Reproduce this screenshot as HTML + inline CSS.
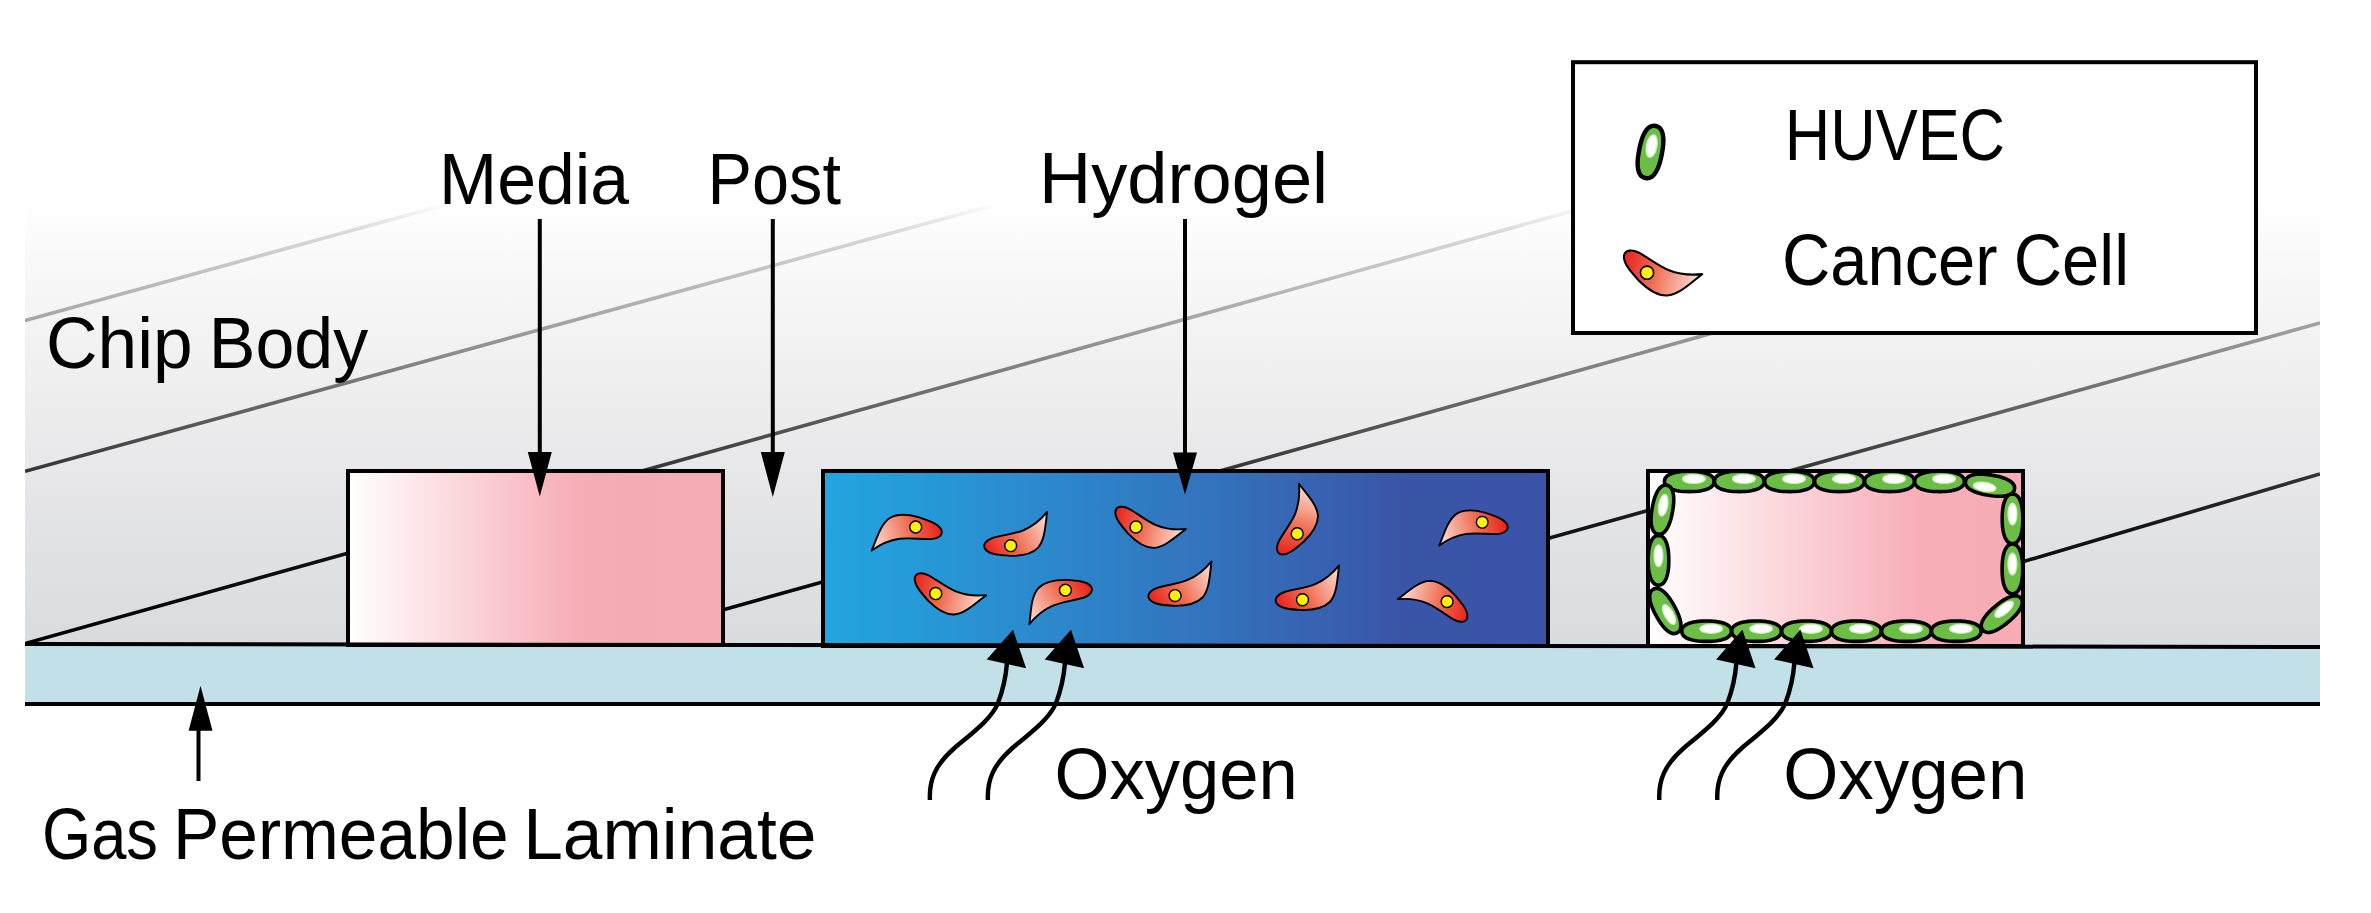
<!DOCTYPE html>
<html><head><meta charset="utf-8"><style>html,body{margin:0;padding:0;background:#fff;overflow:hidden}svg{display:block}</style></head>
<body><svg width="2371" height="913" viewBox="0 0 2371 913">
<defs>
 <linearGradient id="chipg" x1="0" y1="196" x2="0" y2="644" gradientUnits="userSpaceOnUse">
  <stop offset="0" stop-color="#ffffff"/>
  <stop offset="0.3" stop-color="#f3f3f3"/>
  <stop offset="0.62" stop-color="#e7e7e9"/>
  <stop offset="1" stop-color="#d9dbde"/>
 </linearGradient>
 <linearGradient id="lineg" x1="0" y1="205" x2="0" y2="644" gradientUnits="userSpaceOnUse">
  <stop offset="0" stop-color="#fcfcfc"/>
  <stop offset="0.06" stop-color="#dadada"/>
  <stop offset="0.25" stop-color="#a8a8a8"/>
  <stop offset="0.58" stop-color="#3c3c3c"/>
  <stop offset="0.73" stop-color="#151515"/>
  <stop offset="1" stop-color="#000000"/>
 </linearGradient>
 <linearGradient id="pinkh" x1="0" y1="0" x2="1" y2="0">
  <stop offset="0" stop-color="#ffffff"/>
  <stop offset="0.72" stop-color="#f7aeb7"/>
  <stop offset="1" stop-color="#f7adb6"/>
 </linearGradient>
 <linearGradient id="pinkg" x1="0" y1="0" x2="1" y2="0">
  <stop offset="0" stop-color="#ffffff"/>
  <stop offset="0.6" stop-color="#f7aeb7"/>
  <stop offset="0.75" stop-color="#f5abb4"/>
  <stop offset="1" stop-color="#f7adb6"/>
 </linearGradient>
 <linearGradient id="blueg" x1="0" y1="0" x2="1" y2="0">
  <stop offset="0" stop-color="#22a6e0"/>
  <stop offset="0.5" stop-color="#3276bf"/>
  <stop offset="0.8" stop-color="#3a55a8"/>
  <stop offset="1" stop-color="#3a53a8"/>
 </linearGradient>
 <linearGradient id="cellg" x1="-22" y1="-18" x2="55" y2="2" gradientUnits="userSpaceOnUse">
  <stop offset="0" stop-color="#e8231d"/>
  <stop offset="0.4" stop-color="#f06a4f"/>
  <stop offset="1" stop-color="#fbe3d9"/>
 </linearGradient>
 <clipPath id="chipclip"><rect x="25" y="206" width="2295" height="438"/></clipPath>
 <g id="ccell">
  <path d="M55.2,1.4 C45,2.5 32,1.5 22,-2.5 C12,-6.5 2,-14.5 -8,-20 C-15,-23.5 -22,-23 -23,-17 C-24,-10 -17,-2 -8,8 C0,16 10,23 20,22.8 C32,22 44,10 55.2,1.4 Z" fill="url(#cellg)" stroke="#000" stroke-width="2.1" stroke-linejoin="round"/>
  <circle cx="0" cy="0" r="6.6" fill="#fff200" stroke="#000" stroke-width="1.6"/>
 </g>
</defs>

<rect x="0" y="0" width="2371" height="913" fill="#fff"/>
<rect x="25" y="196" width="2295" height="452" fill="url(#chipg)"/>
<g clip-path="url(#chipclip)" stroke="url(#lineg)" stroke-width="3.6" fill="none">
<line x1="25.0" y1="320.5" x2="600.0" y2="162.0"/>
<line x1="25.0" y1="471.3" x2="1200.0" y2="148.1"/>
<line x1="25.0" y1="643.5" x2="1700.0" y2="175.3"/>
<line x1="601.0" y1="644.0" x2="2320.0" y2="163.2"/>
<line x1="1173.0" y1="643.0" x2="2320.0" y2="323.0"/>
<line x1="1748.0" y1="643.0" x2="2320.0" y2="473.9"/>
</g>
<polygon points="25,644 2320,647 2320,704 25,704" fill="#c2e0e8"/>
<rect x="348" y="471" width="375" height="174" fill="url(#pinkg)" stroke="#000" stroke-width="4"/>
<rect x="823" y="471" width="725" height="175" fill="url(#blueg)" stroke="#000" stroke-width="4"/>
<rect x="1648" y="471" width="375" height="175" fill="url(#pinkh)" stroke="#000" stroke-width="4"/>
<line x1="25" y1="644" x2="2320" y2="647" stroke="#000" stroke-width="4"/>
<line x1="25" y1="704" x2="2320" y2="704" stroke="#000" stroke-width="4"/>
<use href="#ccell" transform="translate(915.7 527.0) rotate(150.4) scale(0.905)"/>
<use href="#ccell" transform="translate(1010.7 545.7) rotate(-44.2) scale(0.900)"/>
<use href="#ccell" transform="translate(1136.0 527.0) rotate(0.9) scale(0.905)"/>
<use href="#ccell" transform="translate(1297.2 533.7) rotate(-89.5) scale(0.905)"/>
<use href="#ccell" transform="translate(1482.2 522.3) rotate(150.1) scale(0.885)"/>
<use href="#ccell" transform="translate(935.7 593.6) rotate(0.3) scale(0.914)"/>
<use href="#ccell" transform="translate(1065.4 590.1) rotate(135.1) scale(0.900)"/>
<use href="#ccell" transform="translate(1175.1 595.6) rotate(-44.7) scale(0.905)"/>
<use href="#ccell" transform="translate(1302.5 599.8) rotate(-44.7) scale(0.910)"/>
<use href="#ccell" transform="translate(1447.1 601.6) rotate(181.4) scale(0.895)"/>
<use href="#ccell" transform="translate(1647.0 272.7) rotate(0.0) scale(1.000)"/>
<g transform="translate(1689.3 481.4) rotate(0.0)">
<path d="M24.80,0.00 L24.70,1.35 L24.39,2.46 L23.87,3.48 L23.15,4.42 L22.23,5.30 L21.12,6.12 L19.83,6.87 L18.35,7.55 L16.70,8.15 L14.88,8.69 L12.90,9.14 L10.76,9.52 L8.46,9.82 L5.99,10.03 L3.29,10.16 L0.00,10.20 L-3.29,10.16 L-5.99,10.03 L-8.46,9.82 L-10.76,9.52 L-12.90,9.14 L-14.88,8.69 L-16.70,8.15 L-18.35,7.55 L-19.83,6.87 L-21.12,6.12 L-22.23,5.30 L-23.15,4.42 L-23.87,3.48 L-24.39,2.46 L-24.70,1.35 L-24.80,0.00 L-24.70,-1.35 L-24.39,-2.46 L-23.87,-3.48 L-23.15,-4.42 L-22.23,-5.30 L-21.12,-6.12 L-19.83,-6.87 L-18.35,-7.55 L-16.70,-8.15 L-14.88,-8.69 L-12.90,-9.14 L-10.76,-9.52 L-8.46,-9.82 L-5.99,-10.03 L-3.29,-10.16 L-0.00,-10.20 L3.29,-10.16 L5.99,-10.03 L8.46,-9.82 L10.76,-9.52 L12.90,-9.14 L14.88,-8.69 L16.70,-8.15 L18.35,-7.55 L19.83,-6.87 L21.12,-6.12 L22.23,-5.30 L23.15,-4.42 L23.87,-3.48 L24.39,-2.46 L24.70,-1.35Z" fill="#6cbd45" stroke="#000" stroke-width="3.6" stroke-linejoin="round"/>
<ellipse cx="4.6" cy="-2.5" rx="11.4" ry="4.6" fill="#fff" stroke="#cdeebb" stroke-width="1.2"/>
</g>
<g transform="translate(1739.3 481.4) rotate(0.0)">
<path d="M24.80,0.00 L24.70,1.35 L24.39,2.46 L23.87,3.48 L23.15,4.42 L22.23,5.30 L21.12,6.12 L19.83,6.87 L18.35,7.55 L16.70,8.15 L14.88,8.69 L12.90,9.14 L10.76,9.52 L8.46,9.82 L5.99,10.03 L3.29,10.16 L0.00,10.20 L-3.29,10.16 L-5.99,10.03 L-8.46,9.82 L-10.76,9.52 L-12.90,9.14 L-14.88,8.69 L-16.70,8.15 L-18.35,7.55 L-19.83,6.87 L-21.12,6.12 L-22.23,5.30 L-23.15,4.42 L-23.87,3.48 L-24.39,2.46 L-24.70,1.35 L-24.80,0.00 L-24.70,-1.35 L-24.39,-2.46 L-23.87,-3.48 L-23.15,-4.42 L-22.23,-5.30 L-21.12,-6.12 L-19.83,-6.87 L-18.35,-7.55 L-16.70,-8.15 L-14.88,-8.69 L-12.90,-9.14 L-10.76,-9.52 L-8.46,-9.82 L-5.99,-10.03 L-3.29,-10.16 L-0.00,-10.20 L3.29,-10.16 L5.99,-10.03 L8.46,-9.82 L10.76,-9.52 L12.90,-9.14 L14.88,-8.69 L16.70,-8.15 L18.35,-7.55 L19.83,-6.87 L21.12,-6.12 L22.23,-5.30 L23.15,-4.42 L23.87,-3.48 L24.39,-2.46 L24.70,-1.35Z" fill="#6cbd45" stroke="#000" stroke-width="3.6" stroke-linejoin="round"/>
<ellipse cx="4.6" cy="-2.5" rx="11.4" ry="4.6" fill="#fff" stroke="#cdeebb" stroke-width="1.2"/>
</g>
<g transform="translate(1789.4 481.4) rotate(0.0)">
<path d="M24.80,0.00 L24.70,1.35 L24.39,2.46 L23.87,3.48 L23.15,4.42 L22.23,5.30 L21.12,6.12 L19.83,6.87 L18.35,7.55 L16.70,8.15 L14.88,8.69 L12.90,9.14 L10.76,9.52 L8.46,9.82 L5.99,10.03 L3.29,10.16 L0.00,10.20 L-3.29,10.16 L-5.99,10.03 L-8.46,9.82 L-10.76,9.52 L-12.90,9.14 L-14.88,8.69 L-16.70,8.15 L-18.35,7.55 L-19.83,6.87 L-21.12,6.12 L-22.23,5.30 L-23.15,4.42 L-23.87,3.48 L-24.39,2.46 L-24.70,1.35 L-24.80,0.00 L-24.70,-1.35 L-24.39,-2.46 L-23.87,-3.48 L-23.15,-4.42 L-22.23,-5.30 L-21.12,-6.12 L-19.83,-6.87 L-18.35,-7.55 L-16.70,-8.15 L-14.88,-8.69 L-12.90,-9.14 L-10.76,-9.52 L-8.46,-9.82 L-5.99,-10.03 L-3.29,-10.16 L-0.00,-10.20 L3.29,-10.16 L5.99,-10.03 L8.46,-9.82 L10.76,-9.52 L12.90,-9.14 L14.88,-8.69 L16.70,-8.15 L18.35,-7.55 L19.83,-6.87 L21.12,-6.12 L22.23,-5.30 L23.15,-4.42 L23.87,-3.48 L24.39,-2.46 L24.70,-1.35Z" fill="#6cbd45" stroke="#000" stroke-width="3.6" stroke-linejoin="round"/>
<ellipse cx="4.6" cy="-2.5" rx="11.4" ry="4.6" fill="#fff" stroke="#cdeebb" stroke-width="1.2"/>
</g>
<g transform="translate(1839.4 481.4) rotate(0.0)">
<path d="M24.80,0.00 L24.70,1.35 L24.39,2.46 L23.87,3.48 L23.15,4.42 L22.23,5.30 L21.12,6.12 L19.83,6.87 L18.35,7.55 L16.70,8.15 L14.88,8.69 L12.90,9.14 L10.76,9.52 L8.46,9.82 L5.99,10.03 L3.29,10.16 L0.00,10.20 L-3.29,10.16 L-5.99,10.03 L-8.46,9.82 L-10.76,9.52 L-12.90,9.14 L-14.88,8.69 L-16.70,8.15 L-18.35,7.55 L-19.83,6.87 L-21.12,6.12 L-22.23,5.30 L-23.15,4.42 L-23.87,3.48 L-24.39,2.46 L-24.70,1.35 L-24.80,0.00 L-24.70,-1.35 L-24.39,-2.46 L-23.87,-3.48 L-23.15,-4.42 L-22.23,-5.30 L-21.12,-6.12 L-19.83,-6.87 L-18.35,-7.55 L-16.70,-8.15 L-14.88,-8.69 L-12.90,-9.14 L-10.76,-9.52 L-8.46,-9.82 L-5.99,-10.03 L-3.29,-10.16 L-0.00,-10.20 L3.29,-10.16 L5.99,-10.03 L8.46,-9.82 L10.76,-9.52 L12.90,-9.14 L14.88,-8.69 L16.70,-8.15 L18.35,-7.55 L19.83,-6.87 L21.12,-6.12 L22.23,-5.30 L23.15,-4.42 L23.87,-3.48 L24.39,-2.46 L24.70,-1.35Z" fill="#6cbd45" stroke="#000" stroke-width="3.6" stroke-linejoin="round"/>
<ellipse cx="4.6" cy="-2.5" rx="11.4" ry="4.6" fill="#fff" stroke="#cdeebb" stroke-width="1.2"/>
</g>
<g transform="translate(1889.5 481.4) rotate(0.0)">
<path d="M24.80,0.00 L24.70,1.35 L24.39,2.46 L23.87,3.48 L23.15,4.42 L22.23,5.30 L21.12,6.12 L19.83,6.87 L18.35,7.55 L16.70,8.15 L14.88,8.69 L12.90,9.14 L10.76,9.52 L8.46,9.82 L5.99,10.03 L3.29,10.16 L0.00,10.20 L-3.29,10.16 L-5.99,10.03 L-8.46,9.82 L-10.76,9.52 L-12.90,9.14 L-14.88,8.69 L-16.70,8.15 L-18.35,7.55 L-19.83,6.87 L-21.12,6.12 L-22.23,5.30 L-23.15,4.42 L-23.87,3.48 L-24.39,2.46 L-24.70,1.35 L-24.80,0.00 L-24.70,-1.35 L-24.39,-2.46 L-23.87,-3.48 L-23.15,-4.42 L-22.23,-5.30 L-21.12,-6.12 L-19.83,-6.87 L-18.35,-7.55 L-16.70,-8.15 L-14.88,-8.69 L-12.90,-9.14 L-10.76,-9.52 L-8.46,-9.82 L-5.99,-10.03 L-3.29,-10.16 L-0.00,-10.20 L3.29,-10.16 L5.99,-10.03 L8.46,-9.82 L10.76,-9.52 L12.90,-9.14 L14.88,-8.69 L16.70,-8.15 L18.35,-7.55 L19.83,-6.87 L21.12,-6.12 L22.23,-5.30 L23.15,-4.42 L23.87,-3.48 L24.39,-2.46 L24.70,-1.35Z" fill="#6cbd45" stroke="#000" stroke-width="3.6" stroke-linejoin="round"/>
<ellipse cx="4.6" cy="-2.5" rx="11.4" ry="4.6" fill="#fff" stroke="#cdeebb" stroke-width="1.2"/>
</g>
<g transform="translate(1939.5 481.4) rotate(0.0)">
<path d="M24.80,0.00 L24.70,1.35 L24.39,2.46 L23.87,3.48 L23.15,4.42 L22.23,5.30 L21.12,6.12 L19.83,6.87 L18.35,7.55 L16.70,8.15 L14.88,8.69 L12.90,9.14 L10.76,9.52 L8.46,9.82 L5.99,10.03 L3.29,10.16 L0.00,10.20 L-3.29,10.16 L-5.99,10.03 L-8.46,9.82 L-10.76,9.52 L-12.90,9.14 L-14.88,8.69 L-16.70,8.15 L-18.35,7.55 L-19.83,6.87 L-21.12,6.12 L-22.23,5.30 L-23.15,4.42 L-23.87,3.48 L-24.39,2.46 L-24.70,1.35 L-24.80,0.00 L-24.70,-1.35 L-24.39,-2.46 L-23.87,-3.48 L-23.15,-4.42 L-22.23,-5.30 L-21.12,-6.12 L-19.83,-6.87 L-18.35,-7.55 L-16.70,-8.15 L-14.88,-8.69 L-12.90,-9.14 L-10.76,-9.52 L-8.46,-9.82 L-5.99,-10.03 L-3.29,-10.16 L-0.00,-10.20 L3.29,-10.16 L5.99,-10.03 L8.46,-9.82 L10.76,-9.52 L12.90,-9.14 L14.88,-8.69 L16.70,-8.15 L18.35,-7.55 L19.83,-6.87 L21.12,-6.12 L22.23,-5.30 L23.15,-4.42 L23.87,-3.48 L24.39,-2.46 L24.70,-1.35Z" fill="#6cbd45" stroke="#000" stroke-width="3.6" stroke-linejoin="round"/>
<ellipse cx="4.6" cy="-2.5" rx="11.4" ry="4.6" fill="#fff" stroke="#cdeebb" stroke-width="1.2"/>
</g>
<g transform="translate(1990.0 485.2) rotate(9.0)">
<path d="M24.80,0.00 L24.70,1.35 L24.39,2.46 L23.87,3.48 L23.15,4.42 L22.23,5.30 L21.12,6.12 L19.83,6.87 L18.35,7.55 L16.70,8.15 L14.88,8.69 L12.90,9.14 L10.76,9.52 L8.46,9.82 L5.99,10.03 L3.29,10.16 L0.00,10.20 L-3.29,10.16 L-5.99,10.03 L-8.46,9.82 L-10.76,9.52 L-12.90,9.14 L-14.88,8.69 L-16.70,8.15 L-18.35,7.55 L-19.83,6.87 L-21.12,6.12 L-22.23,5.30 L-23.15,4.42 L-23.87,3.48 L-24.39,2.46 L-24.70,1.35 L-24.80,0.00 L-24.70,-1.35 L-24.39,-2.46 L-23.87,-3.48 L-23.15,-4.42 L-22.23,-5.30 L-21.12,-6.12 L-19.83,-6.87 L-18.35,-7.55 L-16.70,-8.15 L-14.88,-8.69 L-12.90,-9.14 L-10.76,-9.52 L-8.46,-9.82 L-5.99,-10.03 L-3.29,-10.16 L-0.00,-10.20 L3.29,-10.16 L5.99,-10.03 L8.46,-9.82 L10.76,-9.52 L12.90,-9.14 L14.88,-8.69 L16.70,-8.15 L18.35,-7.55 L19.83,-6.87 L21.12,-6.12 L22.23,-5.30 L23.15,-4.42 L23.87,-3.48 L24.39,-2.46 L24.70,-1.35Z" fill="#6cbd45" stroke="#000" stroke-width="3.6" stroke-linejoin="round"/>
<ellipse cx="-5.0" cy="2.5" rx="11.4" ry="4.6" fill="#fff" stroke="#cdeebb" stroke-width="1.2"/>
</g>
<g transform="translate(1706.6 631.2) rotate(0.0)">
<path d="M24.80,0.00 L24.70,1.35 L24.39,2.46 L23.87,3.48 L23.15,4.42 L22.23,5.30 L21.12,6.12 L19.83,6.87 L18.35,7.55 L16.70,8.15 L14.88,8.69 L12.90,9.14 L10.76,9.52 L8.46,9.82 L5.99,10.03 L3.29,10.16 L0.00,10.20 L-3.29,10.16 L-5.99,10.03 L-8.46,9.82 L-10.76,9.52 L-12.90,9.14 L-14.88,8.69 L-16.70,8.15 L-18.35,7.55 L-19.83,6.87 L-21.12,6.12 L-22.23,5.30 L-23.15,4.42 L-23.87,3.48 L-24.39,2.46 L-24.70,1.35 L-24.80,0.00 L-24.70,-1.35 L-24.39,-2.46 L-23.87,-3.48 L-23.15,-4.42 L-22.23,-5.30 L-21.12,-6.12 L-19.83,-6.87 L-18.35,-7.55 L-16.70,-8.15 L-14.88,-8.69 L-12.90,-9.14 L-10.76,-9.52 L-8.46,-9.82 L-5.99,-10.03 L-3.29,-10.16 L-0.00,-10.20 L3.29,-10.16 L5.99,-10.03 L8.46,-9.82 L10.76,-9.52 L12.90,-9.14 L14.88,-8.69 L16.70,-8.15 L18.35,-7.55 L19.83,-6.87 L21.12,-6.12 L22.23,-5.30 L23.15,-4.42 L23.87,-3.48 L24.39,-2.46 L24.70,-1.35Z" fill="#6cbd45" stroke="#000" stroke-width="3.6" stroke-linejoin="round"/>
<ellipse cx="4.6" cy="-2.5" rx="11.4" ry="4.6" fill="#fff" stroke="#cdeebb" stroke-width="1.2"/>
</g>
<g transform="translate(1756.5 631.2) rotate(0.0)">
<path d="M24.80,0.00 L24.70,1.35 L24.39,2.46 L23.87,3.48 L23.15,4.42 L22.23,5.30 L21.12,6.12 L19.83,6.87 L18.35,7.55 L16.70,8.15 L14.88,8.69 L12.90,9.14 L10.76,9.52 L8.46,9.82 L5.99,10.03 L3.29,10.16 L0.00,10.20 L-3.29,10.16 L-5.99,10.03 L-8.46,9.82 L-10.76,9.52 L-12.90,9.14 L-14.88,8.69 L-16.70,8.15 L-18.35,7.55 L-19.83,6.87 L-21.12,6.12 L-22.23,5.30 L-23.15,4.42 L-23.87,3.48 L-24.39,2.46 L-24.70,1.35 L-24.80,0.00 L-24.70,-1.35 L-24.39,-2.46 L-23.87,-3.48 L-23.15,-4.42 L-22.23,-5.30 L-21.12,-6.12 L-19.83,-6.87 L-18.35,-7.55 L-16.70,-8.15 L-14.88,-8.69 L-12.90,-9.14 L-10.76,-9.52 L-8.46,-9.82 L-5.99,-10.03 L-3.29,-10.16 L-0.00,-10.20 L3.29,-10.16 L5.99,-10.03 L8.46,-9.82 L10.76,-9.52 L12.90,-9.14 L14.88,-8.69 L16.70,-8.15 L18.35,-7.55 L19.83,-6.87 L21.12,-6.12 L22.23,-5.30 L23.15,-4.42 L23.87,-3.48 L24.39,-2.46 L24.70,-1.35Z" fill="#6cbd45" stroke="#000" stroke-width="3.6" stroke-linejoin="round"/>
<ellipse cx="4.6" cy="-2.5" rx="11.4" ry="4.6" fill="#fff" stroke="#cdeebb" stroke-width="1.2"/>
</g>
<g transform="translate(1806.5 631.2) rotate(0.0)">
<path d="M24.80,0.00 L24.70,1.35 L24.39,2.46 L23.87,3.48 L23.15,4.42 L22.23,5.30 L21.12,6.12 L19.83,6.87 L18.35,7.55 L16.70,8.15 L14.88,8.69 L12.90,9.14 L10.76,9.52 L8.46,9.82 L5.99,10.03 L3.29,10.16 L0.00,10.20 L-3.29,10.16 L-5.99,10.03 L-8.46,9.82 L-10.76,9.52 L-12.90,9.14 L-14.88,8.69 L-16.70,8.15 L-18.35,7.55 L-19.83,6.87 L-21.12,6.12 L-22.23,5.30 L-23.15,4.42 L-23.87,3.48 L-24.39,2.46 L-24.70,1.35 L-24.80,0.00 L-24.70,-1.35 L-24.39,-2.46 L-23.87,-3.48 L-23.15,-4.42 L-22.23,-5.30 L-21.12,-6.12 L-19.83,-6.87 L-18.35,-7.55 L-16.70,-8.15 L-14.88,-8.69 L-12.90,-9.14 L-10.76,-9.52 L-8.46,-9.82 L-5.99,-10.03 L-3.29,-10.16 L-0.00,-10.20 L3.29,-10.16 L5.99,-10.03 L8.46,-9.82 L10.76,-9.52 L12.90,-9.14 L14.88,-8.69 L16.70,-8.15 L18.35,-7.55 L19.83,-6.87 L21.12,-6.12 L22.23,-5.30 L23.15,-4.42 L23.87,-3.48 L24.39,-2.46 L24.70,-1.35Z" fill="#6cbd45" stroke="#000" stroke-width="3.6" stroke-linejoin="round"/>
<ellipse cx="4.6" cy="-2.5" rx="11.4" ry="4.6" fill="#fff" stroke="#cdeebb" stroke-width="1.2"/>
</g>
<g transform="translate(1856.4 631.2) rotate(0.0)">
<path d="M24.80,0.00 L24.70,1.35 L24.39,2.46 L23.87,3.48 L23.15,4.42 L22.23,5.30 L21.12,6.12 L19.83,6.87 L18.35,7.55 L16.70,8.15 L14.88,8.69 L12.90,9.14 L10.76,9.52 L8.46,9.82 L5.99,10.03 L3.29,10.16 L0.00,10.20 L-3.29,10.16 L-5.99,10.03 L-8.46,9.82 L-10.76,9.52 L-12.90,9.14 L-14.88,8.69 L-16.70,8.15 L-18.35,7.55 L-19.83,6.87 L-21.12,6.12 L-22.23,5.30 L-23.15,4.42 L-23.87,3.48 L-24.39,2.46 L-24.70,1.35 L-24.80,0.00 L-24.70,-1.35 L-24.39,-2.46 L-23.87,-3.48 L-23.15,-4.42 L-22.23,-5.30 L-21.12,-6.12 L-19.83,-6.87 L-18.35,-7.55 L-16.70,-8.15 L-14.88,-8.69 L-12.90,-9.14 L-10.76,-9.52 L-8.46,-9.82 L-5.99,-10.03 L-3.29,-10.16 L-0.00,-10.20 L3.29,-10.16 L5.99,-10.03 L8.46,-9.82 L10.76,-9.52 L12.90,-9.14 L14.88,-8.69 L16.70,-8.15 L18.35,-7.55 L19.83,-6.87 L21.12,-6.12 L22.23,-5.30 L23.15,-4.42 L23.87,-3.48 L24.39,-2.46 L24.70,-1.35Z" fill="#6cbd45" stroke="#000" stroke-width="3.6" stroke-linejoin="round"/>
<ellipse cx="4.6" cy="-2.5" rx="11.4" ry="4.6" fill="#fff" stroke="#cdeebb" stroke-width="1.2"/>
</g>
<g transform="translate(1906.4 631.2) rotate(0.0)">
<path d="M24.80,0.00 L24.70,1.35 L24.39,2.46 L23.87,3.48 L23.15,4.42 L22.23,5.30 L21.12,6.12 L19.83,6.87 L18.35,7.55 L16.70,8.15 L14.88,8.69 L12.90,9.14 L10.76,9.52 L8.46,9.82 L5.99,10.03 L3.29,10.16 L0.00,10.20 L-3.29,10.16 L-5.99,10.03 L-8.46,9.82 L-10.76,9.52 L-12.90,9.14 L-14.88,8.69 L-16.70,8.15 L-18.35,7.55 L-19.83,6.87 L-21.12,6.12 L-22.23,5.30 L-23.15,4.42 L-23.87,3.48 L-24.39,2.46 L-24.70,1.35 L-24.80,0.00 L-24.70,-1.35 L-24.39,-2.46 L-23.87,-3.48 L-23.15,-4.42 L-22.23,-5.30 L-21.12,-6.12 L-19.83,-6.87 L-18.35,-7.55 L-16.70,-8.15 L-14.88,-8.69 L-12.90,-9.14 L-10.76,-9.52 L-8.46,-9.82 L-5.99,-10.03 L-3.29,-10.16 L-0.00,-10.20 L3.29,-10.16 L5.99,-10.03 L8.46,-9.82 L10.76,-9.52 L12.90,-9.14 L14.88,-8.69 L16.70,-8.15 L18.35,-7.55 L19.83,-6.87 L21.12,-6.12 L22.23,-5.30 L23.15,-4.42 L23.87,-3.48 L24.39,-2.46 L24.70,-1.35Z" fill="#6cbd45" stroke="#000" stroke-width="3.6" stroke-linejoin="round"/>
<ellipse cx="4.6" cy="-2.5" rx="11.4" ry="4.6" fill="#fff" stroke="#cdeebb" stroke-width="1.2"/>
</g>
<g transform="translate(1956.3 631.2) rotate(0.0)">
<path d="M24.80,0.00 L24.70,1.35 L24.39,2.46 L23.87,3.48 L23.15,4.42 L22.23,5.30 L21.12,6.12 L19.83,6.87 L18.35,7.55 L16.70,8.15 L14.88,8.69 L12.90,9.14 L10.76,9.52 L8.46,9.82 L5.99,10.03 L3.29,10.16 L0.00,10.20 L-3.29,10.16 L-5.99,10.03 L-8.46,9.82 L-10.76,9.52 L-12.90,9.14 L-14.88,8.69 L-16.70,8.15 L-18.35,7.55 L-19.83,6.87 L-21.12,6.12 L-22.23,5.30 L-23.15,4.42 L-23.87,3.48 L-24.39,2.46 L-24.70,1.35 L-24.80,0.00 L-24.70,-1.35 L-24.39,-2.46 L-23.87,-3.48 L-23.15,-4.42 L-22.23,-5.30 L-21.12,-6.12 L-19.83,-6.87 L-18.35,-7.55 L-16.70,-8.15 L-14.88,-8.69 L-12.90,-9.14 L-10.76,-9.52 L-8.46,-9.82 L-5.99,-10.03 L-3.29,-10.16 L-0.00,-10.20 L3.29,-10.16 L5.99,-10.03 L8.46,-9.82 L10.76,-9.52 L12.90,-9.14 L14.88,-8.69 L16.70,-8.15 L18.35,-7.55 L19.83,-6.87 L21.12,-6.12 L22.23,-5.30 L23.15,-4.42 L23.87,-3.48 L24.39,-2.46 L24.70,-1.35Z" fill="#6cbd45" stroke="#000" stroke-width="3.6" stroke-linejoin="round"/>
<ellipse cx="4.6" cy="-2.5" rx="11.4" ry="4.6" fill="#fff" stroke="#cdeebb" stroke-width="1.2"/>
</g>
<g transform="translate(2001.8 614.1) rotate(-40.0)">
<path d="M24.80,0.00 L24.70,1.35 L24.39,2.46 L23.87,3.48 L23.15,4.42 L22.23,5.30 L21.12,6.12 L19.83,6.87 L18.35,7.55 L16.70,8.15 L14.88,8.69 L12.90,9.14 L10.76,9.52 L8.46,9.82 L5.99,10.03 L3.29,10.16 L0.00,10.20 L-3.29,10.16 L-5.99,10.03 L-8.46,9.82 L-10.76,9.52 L-12.90,9.14 L-14.88,8.69 L-16.70,8.15 L-18.35,7.55 L-19.83,6.87 L-21.12,6.12 L-22.23,5.30 L-23.15,4.42 L-23.87,3.48 L-24.39,2.46 L-24.70,1.35 L-24.80,0.00 L-24.70,-1.35 L-24.39,-2.46 L-23.87,-3.48 L-23.15,-4.42 L-22.23,-5.30 L-21.12,-6.12 L-19.83,-6.87 L-18.35,-7.55 L-16.70,-8.15 L-14.88,-8.69 L-12.90,-9.14 L-10.76,-9.52 L-8.46,-9.82 L-5.99,-10.03 L-3.29,-10.16 L-0.00,-10.20 L3.29,-10.16 L5.99,-10.03 L8.46,-9.82 L10.76,-9.52 L12.90,-9.14 L14.88,-8.69 L16.70,-8.15 L18.35,-7.55 L19.83,-6.87 L21.12,-6.12 L22.23,-5.30 L23.15,-4.42 L23.87,-3.48 L24.39,-2.46 L24.70,-1.35Z" fill="#6cbd45" stroke="#000" stroke-width="3.6" stroke-linejoin="round"/>
<ellipse cx="4.8" cy="-2.2" rx="11.4" ry="4.6" fill="#fff" stroke="#cdeebb" stroke-width="1.2"/>
</g>
<g transform="translate(1662.4 509.7) rotate(10.0)">
<path d="M10.30,0.00 L10.26,3.29 L10.13,5.99 L9.91,8.46 L9.61,10.76 L9.23,12.90 L8.77,14.88 L8.23,16.70 L7.62,18.35 L6.93,19.83 L6.18,21.12 L5.36,22.23 L4.47,23.15 L3.51,23.87 L2.49,24.39 L1.37,24.70 L0.00,24.80 L-1.37,24.70 L-2.49,24.39 L-3.51,23.87 L-4.47,23.15 L-5.36,22.23 L-6.18,21.12 L-6.93,19.83 L-7.62,18.35 L-8.23,16.70 L-8.77,14.88 L-9.23,12.90 L-9.61,10.76 L-9.91,8.46 L-10.13,5.99 L-10.26,3.29 L-10.30,0.00 L-10.26,-3.29 L-10.13,-5.99 L-9.91,-8.46 L-9.61,-10.76 L-9.23,-12.90 L-8.77,-14.88 L-8.23,-16.70 L-7.62,-18.35 L-6.93,-19.83 L-6.18,-21.12 L-5.36,-22.23 L-4.47,-23.15 L-3.51,-23.87 L-2.49,-24.39 L-1.37,-24.70 L-0.00,-24.80 L1.37,-24.70 L2.49,-24.39 L3.51,-23.87 L4.47,-23.15 L5.36,-22.23 L6.18,-21.12 L6.93,-19.83 L7.62,-18.35 L8.23,-16.70 L8.77,-14.88 L9.23,-12.90 L9.61,-10.76 L9.91,-8.46 L10.13,-5.99 L10.26,-3.29Z" fill="#6cbd45" stroke="#000" stroke-width="3.6" stroke-linejoin="round"/>
<ellipse cx="0.0" cy="-4.5" rx="4.5" ry="11.0" fill="#fff" stroke="#cdeebb" stroke-width="1.2"/>
</g>
<g transform="translate(1658.5 560.3) rotate(0.0)">
<path d="M10.30,0.00 L10.26,3.29 L10.13,5.99 L9.91,8.46 L9.61,10.76 L9.23,12.90 L8.77,14.88 L8.23,16.70 L7.62,18.35 L6.93,19.83 L6.18,21.12 L5.36,22.23 L4.47,23.15 L3.51,23.87 L2.49,24.39 L1.37,24.70 L0.00,24.80 L-1.37,24.70 L-2.49,24.39 L-3.51,23.87 L-4.47,23.15 L-5.36,22.23 L-6.18,21.12 L-6.93,19.83 L-7.62,18.35 L-8.23,16.70 L-8.77,14.88 L-9.23,12.90 L-9.61,10.76 L-9.91,8.46 L-10.13,5.99 L-10.26,3.29 L-10.30,0.00 L-10.26,-3.29 L-10.13,-5.99 L-9.91,-8.46 L-9.61,-10.76 L-9.23,-12.90 L-8.77,-14.88 L-8.23,-16.70 L-7.62,-18.35 L-6.93,-19.83 L-6.18,-21.12 L-5.36,-22.23 L-4.47,-23.15 L-3.51,-23.87 L-2.49,-24.39 L-1.37,-24.70 L-0.00,-24.80 L1.37,-24.70 L2.49,-24.39 L3.51,-23.87 L4.47,-23.15 L5.36,-22.23 L6.18,-21.12 L6.93,-19.83 L7.62,-18.35 L8.23,-16.70 L8.77,-14.88 L9.23,-12.90 L9.61,-10.76 L9.91,-8.46 L10.13,-5.99 L10.26,-3.29Z" fill="#6cbd45" stroke="#000" stroke-width="3.6" stroke-linejoin="round"/>
<ellipse cx="0.0" cy="-4.5" rx="4.5" ry="11.0" fill="#fff" stroke="#cdeebb" stroke-width="1.2"/>
</g>
<g transform="translate(1665.3 611.0) rotate(-28.7)">
<path d="M10.30,0.00 L10.26,3.29 L10.13,5.99 L9.91,8.46 L9.61,10.76 L9.23,12.90 L8.77,14.88 L8.23,16.70 L7.62,18.35 L6.93,19.83 L6.18,21.12 L5.36,22.23 L4.47,23.15 L3.51,23.87 L2.49,24.39 L1.37,24.70 L0.00,24.80 L-1.37,24.70 L-2.49,24.39 L-3.51,23.87 L-4.47,23.15 L-5.36,22.23 L-6.18,21.12 L-6.93,19.83 L-7.62,18.35 L-8.23,16.70 L-8.77,14.88 L-9.23,12.90 L-9.61,10.76 L-9.91,8.46 L-10.13,5.99 L-10.26,3.29 L-10.30,0.00 L-10.26,-3.29 L-10.13,-5.99 L-9.91,-8.46 L-9.61,-10.76 L-9.23,-12.90 L-8.77,-14.88 L-8.23,-16.70 L-7.62,-18.35 L-6.93,-19.83 L-6.18,-21.12 L-5.36,-22.23 L-4.47,-23.15 L-3.51,-23.87 L-2.49,-24.39 L-1.37,-24.70 L-0.00,-24.80 L1.37,-24.70 L2.49,-24.39 L3.51,-23.87 L4.47,-23.15 L5.36,-22.23 L6.18,-21.12 L6.93,-19.83 L7.62,-18.35 L8.23,-16.70 L8.77,-14.88 L9.23,-12.90 L9.61,-10.76 L9.91,-8.46 L10.13,-5.99 L10.26,-3.29Z" fill="#6cbd45" stroke="#000" stroke-width="3.6" stroke-linejoin="round"/>
<ellipse cx="1.6" cy="4.9" rx="4.5" ry="11.0" fill="#fff" stroke="#cdeebb" stroke-width="1.2"/>
</g>
<g transform="translate(2012.5 518.8) rotate(0.0)">
<path d="M10.30,0.00 L10.26,3.29 L10.13,5.99 L9.91,8.46 L9.61,10.76 L9.23,12.90 L8.77,14.88 L8.23,16.70 L7.62,18.35 L6.93,19.83 L6.18,21.12 L5.36,22.23 L4.47,23.15 L3.51,23.87 L2.49,24.39 L1.37,24.70 L0.00,24.80 L-1.37,24.70 L-2.49,24.39 L-3.51,23.87 L-4.47,23.15 L-5.36,22.23 L-6.18,21.12 L-6.93,19.83 L-7.62,18.35 L-8.23,16.70 L-8.77,14.88 L-9.23,12.90 L-9.61,10.76 L-9.91,8.46 L-10.13,5.99 L-10.26,3.29 L-10.30,0.00 L-10.26,-3.29 L-10.13,-5.99 L-9.91,-8.46 L-9.61,-10.76 L-9.23,-12.90 L-8.77,-14.88 L-8.23,-16.70 L-7.62,-18.35 L-6.93,-19.83 L-6.18,-21.12 L-5.36,-22.23 L-4.47,-23.15 L-3.51,-23.87 L-2.49,-24.39 L-1.37,-24.70 L-0.00,-24.80 L1.37,-24.70 L2.49,-24.39 L3.51,-23.87 L4.47,-23.15 L5.36,-22.23 L6.18,-21.12 L6.93,-19.83 L7.62,-18.35 L8.23,-16.70 L8.77,-14.88 L9.23,-12.90 L9.61,-10.76 L9.91,-8.46 L10.13,-5.99 L10.26,-3.29Z" fill="#6cbd45" stroke="#000" stroke-width="3.6" stroke-linejoin="round"/>
<ellipse cx="0.0" cy="-4.8" rx="4.5" ry="11.0" fill="#fff" stroke="#cdeebb" stroke-width="1.2"/>
</g>
<g transform="translate(2012.4 568.9) rotate(0.0)">
<path d="M10.30,0.00 L10.26,3.29 L10.13,5.99 L9.91,8.46 L9.61,10.76 L9.23,12.90 L8.77,14.88 L8.23,16.70 L7.62,18.35 L6.93,19.83 L6.18,21.12 L5.36,22.23 L4.47,23.15 L3.51,23.87 L2.49,24.39 L1.37,24.70 L0.00,24.80 L-1.37,24.70 L-2.49,24.39 L-3.51,23.87 L-4.47,23.15 L-5.36,22.23 L-6.18,21.12 L-6.93,19.83 L-7.62,18.35 L-8.23,16.70 L-8.77,14.88 L-9.23,12.90 L-9.61,10.76 L-9.91,8.46 L-10.13,5.99 L-10.26,3.29 L-10.30,0.00 L-10.26,-3.29 L-10.13,-5.99 L-9.91,-8.46 L-9.61,-10.76 L-9.23,-12.90 L-8.77,-14.88 L-8.23,-16.70 L-7.62,-18.35 L-6.93,-19.83 L-6.18,-21.12 L-5.36,-22.23 L-4.47,-23.15 L-3.51,-23.87 L-2.49,-24.39 L-1.37,-24.70 L-0.00,-24.80 L1.37,-24.70 L2.49,-24.39 L3.51,-23.87 L4.47,-23.15 L5.36,-22.23 L6.18,-21.12 L6.93,-19.83 L7.62,-18.35 L8.23,-16.70 L8.77,-14.88 L9.23,-12.90 L9.61,-10.76 L9.91,-8.46 L10.13,-5.99 L10.26,-3.29Z" fill="#6cbd45" stroke="#000" stroke-width="3.6" stroke-linejoin="round"/>
<ellipse cx="0.0" cy="-4.8" rx="4.5" ry="11.0" fill="#fff" stroke="#cdeebb" stroke-width="1.2"/>
</g>
<g transform="translate(1650.5 152.0) rotate(11.0)">
<path d="M11.50,0.00 L11.45,3.83 L11.32,6.79 L11.09,9.45 L10.77,11.90 L10.36,14.16 L9.86,16.24 L9.28,18.14 L8.62,19.85 L7.87,21.38 L7.05,22.72 L6.14,23.87 L5.16,24.81 L4.10,25.55 L2.95,26.07 L1.66,26.39 L0.00,26.50 L-1.66,26.39 L-2.95,26.07 L-4.10,25.55 L-5.16,24.81 L-6.14,23.87 L-7.05,22.72 L-7.87,21.38 L-8.62,19.85 L-9.28,18.14 L-9.86,16.24 L-10.36,14.16 L-10.77,11.90 L-11.09,9.45 L-11.32,6.79 L-11.45,3.83 L-11.50,0.00 L-11.45,-3.83 L-11.32,-6.79 L-11.09,-9.45 L-10.77,-11.90 L-10.36,-14.16 L-9.86,-16.24 L-9.28,-18.14 L-8.62,-19.85 L-7.87,-21.38 L-7.05,-22.72 L-6.14,-23.87 L-5.16,-24.81 L-4.10,-25.55 L-2.95,-26.07 L-1.66,-26.39 L-0.00,-26.50 L1.66,-26.39 L2.95,-26.07 L4.10,-25.55 L5.16,-24.81 L6.14,-23.87 L7.05,-22.72 L7.87,-21.38 L8.62,-19.85 L9.28,-18.14 L9.86,-16.24 L10.36,-14.16 L10.77,-11.90 L11.09,-9.45 L11.32,-6.79 L11.45,-3.83Z" fill="#6cbd45" stroke="#000" stroke-width="4.4" stroke-linejoin="round"/>
<ellipse cx="0.0" cy="-6.0" rx="5.3" ry="11.5" fill="#fff" stroke="#cdeebb" stroke-width="1.2"/>
</g>
<line x1="539.8" y1="219.0" x2="539.8" y2="454.0" stroke="#000" stroke-width="4"/>
<polygon points="527.8,452.0 551.8,452.0 539.8,496.5" fill="#000"/>
<line x1="772.8" y1="219.0" x2="772.8" y2="454.0" stroke="#000" stroke-width="4"/>
<polygon points="760.8,452.0 784.8,452.0 772.8,497.0" fill="#000"/>
<line x1="1185.0" y1="219.0" x2="1185.0" y2="454.5" stroke="#000" stroke-width="4"/>
<polygon points="1173.0,452.5 1197.0,452.5 1185.0,494.5" fill="#000"/>
<line x1="198.5" y1="781" x2="198.5" y2="729" stroke="#000" stroke-width="4"/>
<polygon points="188.6,730.7 212.5,730.7 200.5,685.8" fill="#000"/>
<path d="M929.9,800 C929.0,780 935.0,765 955.0,747.5 C975.0,731 992.0,718 998.0,703 C1003.0,690 1006.0,675 1007.0,663" fill="none" stroke="#000" stroke-width="4.4"/>
<polygon points="1013.0,629.8 986.7,659.5 1026.1,668.2" fill="#000"/>
<path d="M987.9,800 C987.0,780 993.0,765 1013.0,747.5 C1033.0,731 1050.0,718 1056.0,703 C1061.0,690 1064.0,675 1065.0,663" fill="none" stroke="#000" stroke-width="4.4"/>
<polygon points="1071.0,629.8 1044.7,659.5 1084.1,668.2" fill="#000"/>
<path d="M1659.3,800 C1658.4,780 1664.4,765 1684.4,747.5 C1704.4,731 1721.4,718 1727.4,703 C1732.4,690 1735.4,675 1736.4,663" fill="none" stroke="#000" stroke-width="4.4"/>
<polygon points="1742.4,629.8 1716.1,659.5 1755.5,668.2" fill="#000"/>
<path d="M1717.3,800 C1716.4,780 1722.4,765 1742.4,747.5 C1762.4,731 1779.4,718 1785.4,703 C1790.4,690 1793.4,675 1794.4,663" fill="none" stroke="#000" stroke-width="4.4"/>
<polygon points="1800.4,629.8 1774.1,659.5 1813.5,668.2" fill="#000"/>
<rect x="1573" y="62.2" width="683" height="270.8" fill="#fff" stroke="#000" stroke-width="4"/>
<use href="#ccell" transform="translate(1647.0 272.7)"/>
<g transform="translate(1650.5 152.0) rotate(11.0)">
<path d="M11.50,0.00 L11.45,3.83 L11.32,6.79 L11.09,9.45 L10.77,11.90 L10.36,14.16 L9.86,16.24 L9.28,18.14 L8.62,19.85 L7.87,21.38 L7.05,22.72 L6.14,23.87 L5.16,24.81 L4.10,25.55 L2.95,26.07 L1.66,26.39 L0.00,26.50 L-1.66,26.39 L-2.95,26.07 L-4.10,25.55 L-5.16,24.81 L-6.14,23.87 L-7.05,22.72 L-7.87,21.38 L-8.62,19.85 L-9.28,18.14 L-9.86,16.24 L-10.36,14.16 L-10.77,11.90 L-11.09,9.45 L-11.32,6.79 L-11.45,3.83 L-11.50,0.00 L-11.45,-3.83 L-11.32,-6.79 L-11.09,-9.45 L-10.77,-11.90 L-10.36,-14.16 L-9.86,-16.24 L-9.28,-18.14 L-8.62,-19.85 L-7.87,-21.38 L-7.05,-22.72 L-6.14,-23.87 L-5.16,-24.81 L-4.10,-25.55 L-2.95,-26.07 L-1.66,-26.39 L-0.00,-26.50 L1.66,-26.39 L2.95,-26.07 L4.10,-25.55 L5.16,-24.81 L6.14,-23.87 L7.05,-22.72 L7.87,-21.38 L8.62,-19.85 L9.28,-18.14 L9.86,-16.24 L10.36,-14.16 L10.77,-11.90 L11.09,-9.45 L11.32,-6.79 L11.45,-3.83Z" fill="#6cbd45" stroke="#000" stroke-width="4.4" stroke-linejoin="round"/>
<ellipse cx="0.0" cy="-6.0" rx="5.3" ry="11.5" fill="#fff" stroke="#cdeebb" stroke-width="1.2"/>
</g>
<g font-family="Liberation Sans, sans-serif" fill="#000">
<text x="439.00" y="203.50" font-size="73" textLength="190.14" lengthAdjust="spacingAndGlyphs">Media</text>
<text x="707.60" y="203.50" font-size="73" textLength="133.31" lengthAdjust="spacingAndGlyphs">Post</text>
<text x="1039.00" y="203.00" font-size="73" textLength="289.14" lengthAdjust="spacingAndGlyphs">Hydrogel</text>
<text x="46.00" y="368.00" font-size="73" textLength="146.69" lengthAdjust="spacingAndGlyphs">Chip</text>
<text x="208.80" y="368.00" font-size="73" textLength="159.45" lengthAdjust="spacingAndGlyphs">Body</text>
<text x="42.00" y="859.20" font-size="73" textLength="115.93" lengthAdjust="spacingAndGlyphs">Gas</text>
<text x="173.00" y="859.20" font-size="73" textLength="335.71" lengthAdjust="spacingAndGlyphs">Permeable</text>
<text x="523.20" y="859.20" font-size="73" textLength="293.16" lengthAdjust="spacingAndGlyphs">Laminate</text>
<text x="1054.60" y="799.20" font-size="73" textLength="243.25" lengthAdjust="spacingAndGlyphs">Oxygen</text>
<text x="1783.20" y="799.20" font-size="73" textLength="244.28" lengthAdjust="spacingAndGlyphs">Oxygen</text>
<text x="1784.80" y="160.10" font-size="73" textLength="220.28" lengthAdjust="spacingAndGlyphs">HUVEC</text>
<text x="1782.00" y="285.00" font-size="73" textLength="215.59" lengthAdjust="spacingAndGlyphs">Cancer</text>
<text x="2013.80" y="285.00" font-size="73" textLength="115.25" lengthAdjust="spacingAndGlyphs">Cell</text>
</g></svg></body></html>
